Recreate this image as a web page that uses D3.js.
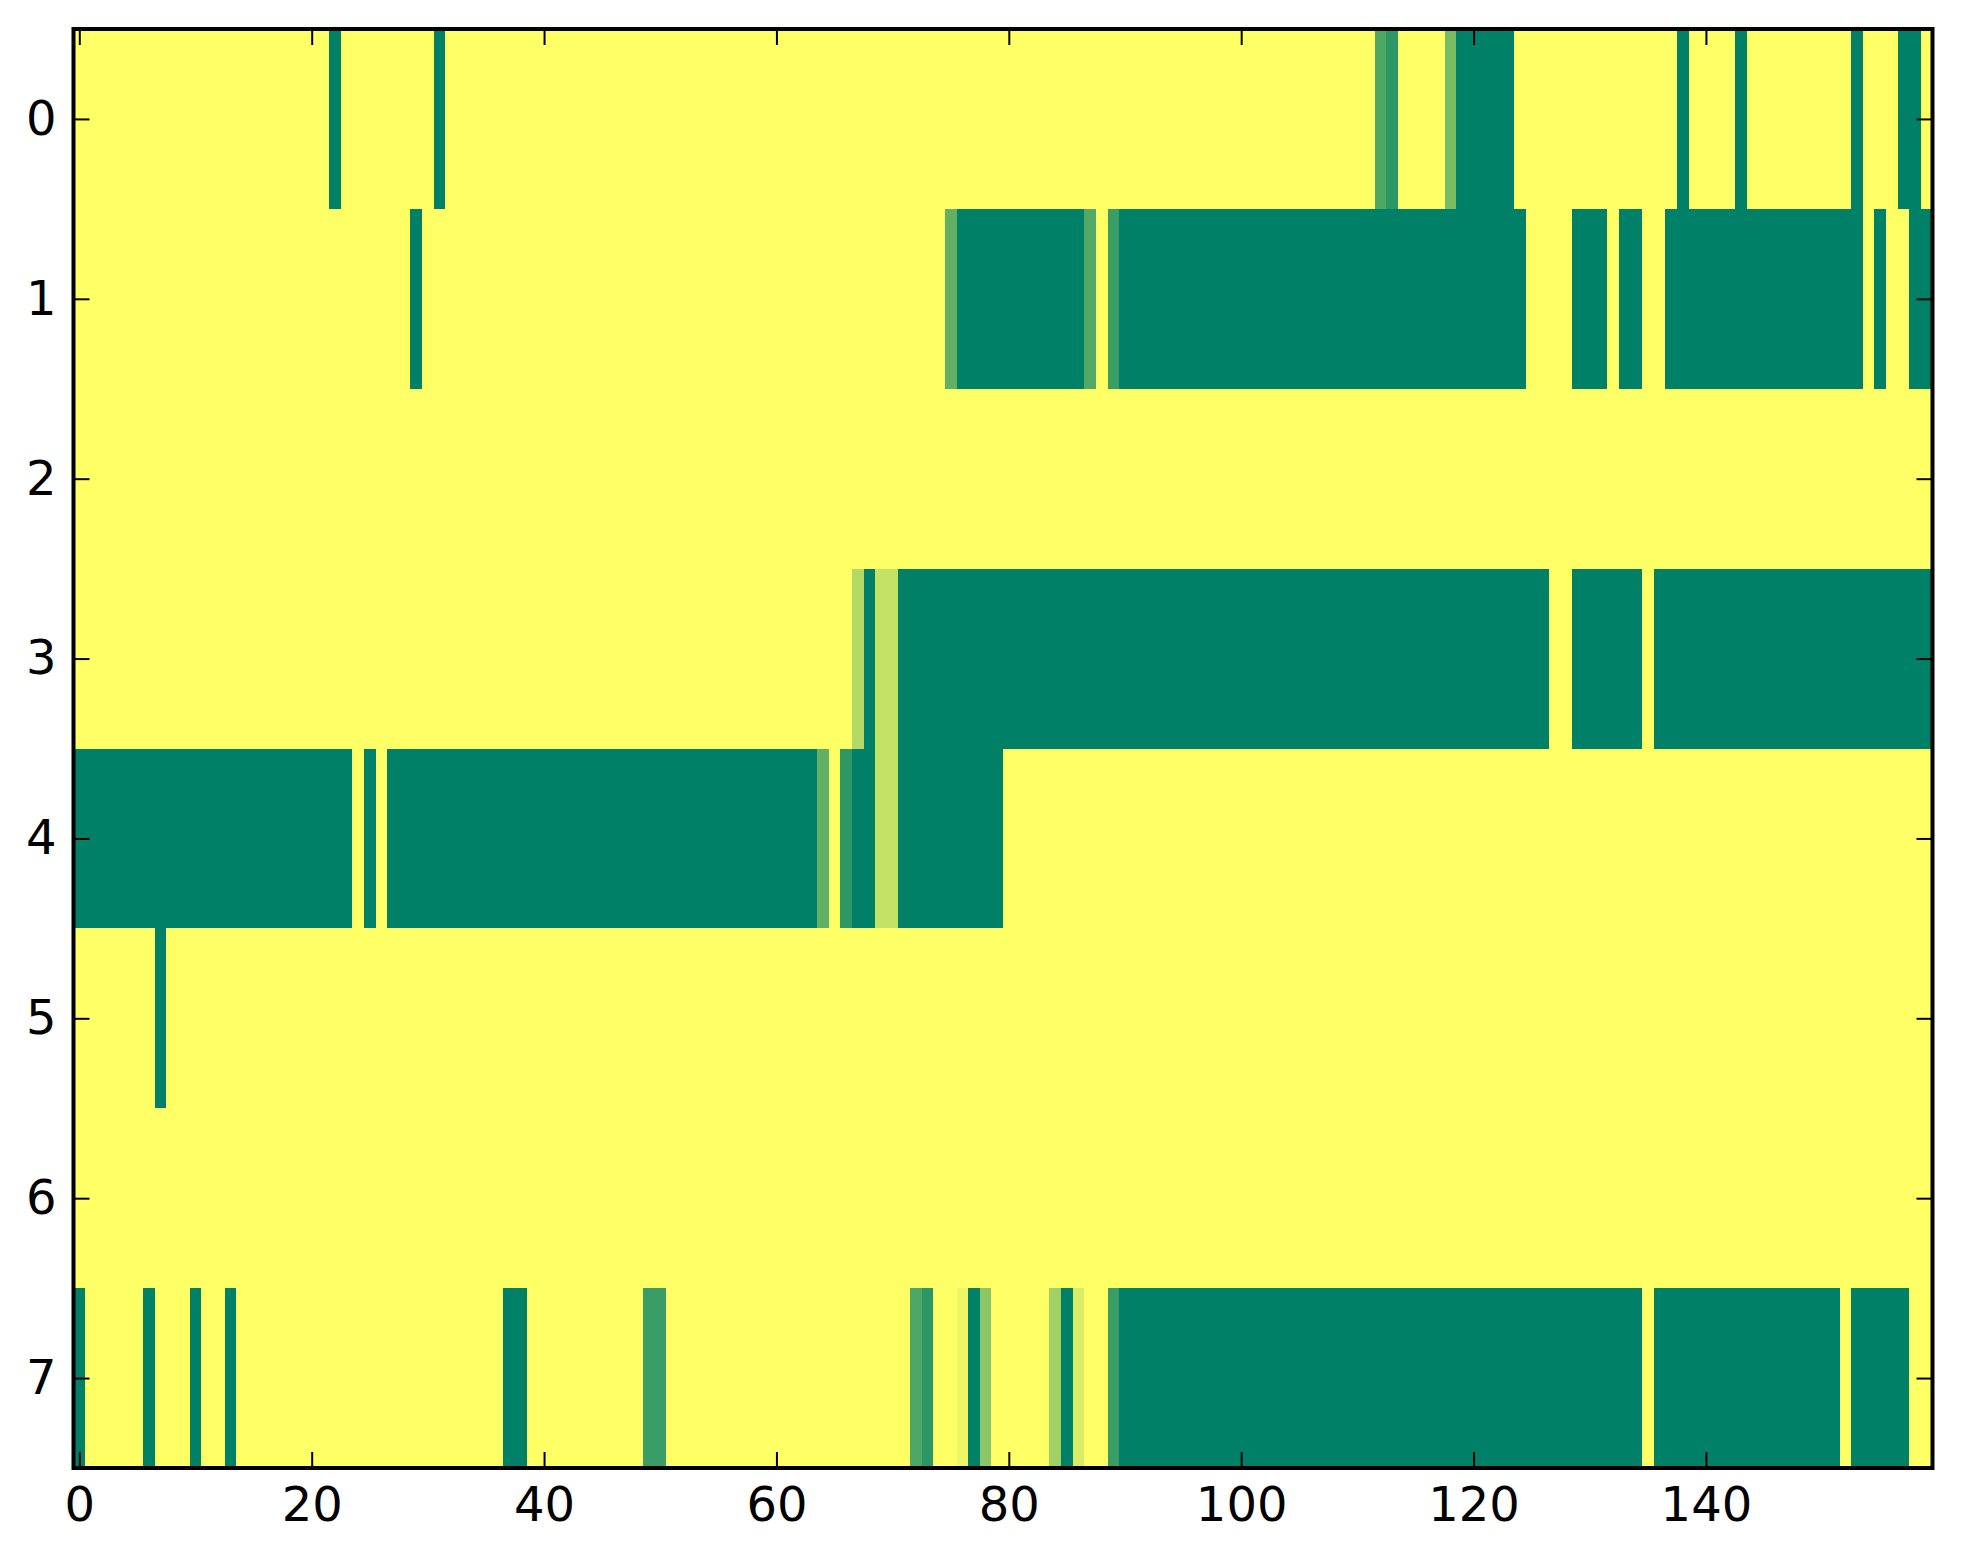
<!DOCTYPE html>
<html>
<head>
    <meta charset="utf-8">
    <script src="https://d3js.org/d3.v7.min.js"></script>
    <style>
        body { margin: 0; background: #ffffff; }
        svg { display: block; }
        .tick text { font-family: 'DejaVu Sans', sans-serif; font-size: 48px; fill: #000; }
    </style>
</head>
<body>
<div id="chart"></div>
<script>
////////////////////////////////////////////////////////////
///////////////////////// Data /////////////////////////////
////////////////////////////////////////////////////////////
var rowIds = [0, 1, 2, 3, 4, 5, 6, 7];
var xTickValues = [0, 20, 40, 60, 80, 100, 120, 140];
var nCols = 160;

// one array per row, 160 columns each (20 per line)
var row0 = [
    0,0,0,0,0,0,0,0,0,0,0,0,0,0,0,0,0,0,0,0,
    0,0,1,0,0,0,0,0,0,0,0,1,0,0,0,0,0,0,0,0,
    0,0,0,0,0,0,0,0,0,0,0,0,0,0,0,0,0,0,0,0,
    0,0,0,0,0,0,0,0,0,0,0,0,0,0,0,0,0,0,0,0,
    0,0,0,0,0,0,0,0,0,0,0,0,0,0,0,0,0,0,0,0,
    0,0,0,0,0,0,0,0,0,0,0,0,.69,.83,0,0,0,0,.53,1,
    1,1,1,1,0,0,0,0,0,0,0,0,0,0,0,0,0,0,1,0,
    0,0,0,1,0,0,0,0,0,0,0,0,0,1,0,0,0,1,1,0
];
var row1 = [
    0,0,0,0,0,0,0,0,0,0,0,0,0,0,0,0,0,0,0,0,
    0,0,0,0,0,0,0,0,0,1,0,0,0,0,0,0,0,0,0,0,
    0,0,0,0,0,0,0,0,0,0,0,0,0,0,0,0,0,0,0,0,
    0,0,0,0,0,0,0,0,0,0,0,0,0,0,0,.62,1,1,1,1,
    1,1,1,1,1,1,1,.68,0,.77,1,1,1,1,1,1,1,1,1,1,
    1,1,1,1,1,1,1,1,1,1,1,1,1,1,1,1,1,1,1,1,
    1,1,1,1,1,0,0,0,0,1,1,1,0,1,1,0,0,1,1,1,
    1,1,1,1,1,1,1,1,1,1,1,1,1,1,0,1,0,0,1,1
];
var row2 = [
    0,0,0,0,0,0,0,0,0,0,0,0,0,0,0,0,0,0,0,0,
    0,0,0,0,0,0,0,0,0,0,0,0,0,0,0,0,0,0,0,0,
    0,0,0,0,0,0,0,0,0,0,0,0,0,0,0,0,0,0,0,0,
    0,0,0,0,0,0,0,0,0,0,0,0,0,0,0,0,0,0,0,0,
    0,0,0,0,0,0,0,0,0,0,0,0,0,0,0,0,0,0,0,0,
    0,0,0,0,0,0,0,0,0,0,0,0,0,0,0,0,0,0,0,0,
    0,0,0,0,0,0,0,0,0,0,0,0,0,0,0,0,0,0,0,0,
    0,0,0,0,0,0,0,0,0,0,0,0,0,0,0,0,0,0,0,0
];
var row3 = [
    0,0,0,0,0,0,0,0,0,0,0,0,0,0,0,0,0,0,0,0,
    0,0,0,0,0,0,0,0,0,0,0,0,0,0,0,0,0,0,0,0,
    0,0,0,0,0,0,0,0,0,0,0,0,0,0,0,0,0,0,0,0,
    0,0,0,0,0,0,0,.30,1,.23,.23,1,1,1,1,1,1,1,1,1,
    1,1,1,1,1,1,1,1,1,1,1,1,1,1,1,1,1,1,1,1,
    1,1,1,1,1,1,1,1,1,1,1,1,1,1,1,1,1,1,1,1,
    1,1,1,1,1,1,1,0,0,1,1,1,1,1,1,0,1,1,1,1,
    1,1,1,1,1,1,1,1,1,1,1,1,1,1,1,1,1,1,1,1
];
var row4 = [
    1,1,1,1,1,1,1,1,1,1,1,1,1,1,1,1,1,1,1,1,
    1,1,1,1,0,1,0,1,1,1,1,1,1,1,1,1,1,1,1,1,
    1,1,1,1,1,1,1,1,1,1,1,1,1,1,1,1,1,1,1,1,
    1,1,1,1,.62,0,.82,1,1,.23,.23,1,1,1,1,1,1,1,1,1,
    0,0,0,0,0,0,0,0,0,0,0,0,0,0,0,0,0,0,0,0,
    0,0,0,0,0,0,0,0,0,0,0,0,0,0,0,0,0,0,0,0,
    0,0,0,0,0,0,0,0,0,0,0,0,0,0,0,0,0,0,0,0,
    0,0,0,0,0,0,0,0,0,0,0,0,0,0,0,0,0,0,0,0
];
var row5 = [
    0,0,0,0,0,0,0,1,0,0,0,0,0,0,0,0,0,0,0,0,
    0,0,0,0,0,0,0,0,0,0,0,0,0,0,0,0,0,0,0,0,
    0,0,0,0,0,0,0,0,0,0,0,0,0,0,0,0,0,0,0,0,
    0,0,0,0,0,0,0,0,0,0,0,0,0,0,0,0,0,0,0,0,
    0,0,0,0,0,0,0,0,0,0,0,0,0,0,0,0,0,0,0,0,
    0,0,0,0,0,0,0,0,0,0,0,0,0,0,0,0,0,0,0,0,
    0,0,0,0,0,0,0,0,0,0,0,0,0,0,0,0,0,0,0,0,
    0,0,0,0,0,0,0,0,0,0,0,0,0,0,0,0,0,0,0,0
];
var row6 = [
    0,0,0,0,0,0,0,0,0,0,0,0,0,0,0,0,0,0,0,0,
    0,0,0,0,0,0,0,0,0,0,0,0,0,0,0,0,0,0,0,0,
    0,0,0,0,0,0,0,0,0,0,0,0,0,0,0,0,0,0,0,0,
    0,0,0,0,0,0,0,0,0,0,0,0,0,0,0,0,0,0,0,0,
    0,0,0,0,0,0,0,0,0,0,0,0,0,0,0,0,0,0,0,0,
    0,0,0,0,0,0,0,0,0,0,0,0,0,0,0,0,0,0,0,0,
    0,0,0,0,0,0,0,0,0,0,0,0,0,0,0,0,0,0,0,0,
    0,0,0,0,0,0,0,0,0,0,0,0,0,0,0,0,0,0,0,0
];
var row7 = [
    1,0,0,0,0,0,1,0,0,0,1,0,0,1,0,0,0,0,0,0,
    0,0,0,0,0,0,0,0,0,0,0,0,0,0,0,0,0,1,1,0,
    0,0,0,0,0,0,0,0,0,.77,.77,0,0,0,0,0,0,0,0,0,
    0,0,0,0,0,0,0,0,0,0,0,0,.69,.83,0,0,.07,1,.45,0,
    0,0,0,0,.37,1,.15,0,0,.77,1,1,1,1,1,1,1,1,1,1,
    1,1,1,1,1,1,1,1,1,1,1,1,1,1,1,1,1,1,1,1,
    1,1,1,1,1,1,1,1,1,1,1,1,1,1,1,0,1,1,1,1,
    1,1,1,1,1,1,1,1,1,1,1,1,0,1,1,1,1,1,0,0
];
var matrix = [row0, row1, row2, row3, row4, row5, row6, row7];

////////////////////////////////////////////////////////////
//////////////////////// Set-Up ////////////////////////////
////////////////////////////////////////////////////////////
var W = 1963, H = 1564;
var plot = {left: 73.5, top: 29, right: 1932.5, bottom: 1468};

var x = d3.scaleLinear().domain([-0.5, nCols - 0.5]).range([plot.left, plot.right]);
var y = d3.scaleLinear().domain([-0.5, rowIds.length - 0.5]).range([plot.top, plot.bottom]);

// matplotlib "summer_r": 0 -> yellow, 1 -> green
var color = d3.scaleLinear().domain([0, 1]).range(["#ffff66", "#008066"]);

var svg = d3.select("#chart").append("svg")
    .attr("width", W)
    .attr("height", H);

svg.append("rect").attr("width", W).attr("height", H).attr("fill", "#ffffff");

////////////////////////////////////////////////////////////
////////////////////// Draw cells //////////////////////////
////////////////////////////////////////////////////////////
var cells = [];
matrix.forEach(function(row, r) {
    row.forEach(function(v, c) { cells.push({r: r, c: c, v: v}); });
});

svg.append("g").attr("class", "cells")
    .selectAll("rect")
    .data(cells)
    .enter().append("rect")
    .attr("x", function(d) { return x(d.c - 0.5); })
    .attr("y", function(d) { return y(d.r - 0.5); })
    .attr("width", function(d) { return x(d.c + 0.5) - x(d.c - 0.5) + 0.4; })
    .attr("height", function(d) { return y(d.r + 0.5) - y(d.r - 0.5) + 0.4; })
    .attr("shape-rendering", "crispEdges")
    .attr("fill", function(d) { return color(d.v); });

////////////////////////////////////////////////////////////
////////////////////// Axes ////////////////////////////////
////////////////////////////////////////////////////////////
var tickLen = 16;

function styleAxis(g) {
    g.select(".domain").remove();
    g.selectAll(".tick line").attr("stroke", "#000").attr("stroke-width", 2);
}

svg.append("g")
    .attr("transform", "translate(0," + plot.bottom + ")")
    .call(d3.axisBottom(x).tickValues(xTickValues).tickSizeInner(-tickLen).tickSizeOuter(0).tickPadding(19))
    .call(styleAxis);

svg.append("g")
    .attr("transform", "translate(0," + plot.top + ")")
    .call(d3.axisTop(x).tickValues(xTickValues).tickSizeInner(-tickLen).tickSizeOuter(0).tickFormat(""))
    .call(styleAxis);

svg.append("g")
    .attr("transform", "translate(" + plot.left + ",0)")
    .call(d3.axisLeft(y).tickValues(rowIds).tickSizeInner(-tickLen).tickSizeOuter(0).tickPadding(17))
    .call(styleAxis);

svg.append("g")
    .attr("transform", "translate(" + plot.right + ",0)")
    .call(d3.axisRight(y).tickValues(rowIds).tickSizeInner(-tickLen).tickSizeOuter(0).tickFormat(""))
    .call(styleAxis);

svg.selectAll(".tick text").attr("font-family", null).attr("font-size", null);

// frame
svg.append("rect")
    .attr("x", plot.left)
    .attr("y", plot.top)
    .attr("width", plot.right - plot.left)
    .attr("height", plot.bottom - plot.top)
    .attr("fill", "none")
    .attr("stroke", "#000")
    .attr("stroke-width", 4);
</script>
</body>
</html>
